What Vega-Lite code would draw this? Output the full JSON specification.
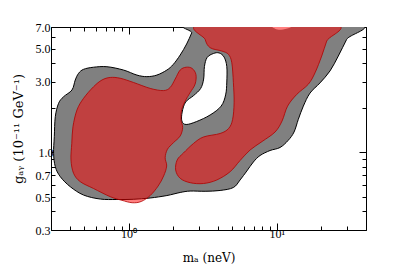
{
  "$schema": "https://vega.github.io/schema/vega-lite/v6.json",
  "width": 315,
  "height": 203,
  "autosize": {"type": "none"},
  "padding": {"left": 51, "top": 27, "right": 41, "bottom": 41},
  "background": "white",
  "config": {
    "view": {"stroke": "black", "strokeWidth": 1},
    "axis": {
      "labelFont": "Liberation Serif",
      "labelFontSize": 12,
      "labelColor": "black",
      "titleFont": "DejaVu Serif",
      "titleFontSize": 12,
      "titleFontWeight": "normal",
      "titleColor": "black",
      "domainColor": "black",
      "tickColor": "black",
      "grid": false,
      "zindex": 1
    }
  },
  "datasets": {
    "regions": [
      {"region": "gray", "i": 1, "m": 2.667, "g": 6.38},
      {"region": "gray", "i": 2, "m": 2.815, "g": 7.33},
      {"region": "gray", "i": 3, "m": 33.7, "g": 7.33},
      {"region": "gray", "i": 4, "m": 29.63, "g": 5.78},
      {"region": "gray", "i": 5, "m": 26.01, "g": 4.46},
      {"region": "gray", "i": 6, "m": 22.87, "g": 3.54},
      {"region": "gray", "i": 7, "m": 19.57, "g": 2.94},
      {"region": "gray", "i": 8, "m": 16.76, "g": 2.51},
      {"region": "gray", "i": 9, "m": 15.11, "g": 2.05},
      {"region": "gray", "i": 10, "m": 13.98, "g": 1.67},
      {"region": "gray", "i": 11, "m": 13.08, "g": 1.372},
      {"region": "gray", "i": 12, "m": 11.92, "g": 1.203},
      {"region": "gray", "i": 13, "m": 10.52, "g": 1.079},
      {"region": "gray", "i": 14, "m": 9.013, "g": 1.03},
      {"region": "gray", "i": 15, "m": 7.717, "g": 0.953},
      {"region": "gray", "i": 16, "m": 6.957, "g": 0.862},
      {"region": "gray", "i": 17, "m": 6.28, "g": 0.749},
      {"region": "gray", "i": 18, "m": 5.657, "g": 0.652},
      {"region": "gray", "i": 19, "m": 5.099, "g": 0.58},
      {"region": "gray", "i": 20, "m": 4.149, "g": 0.554},
      {"region": "gray", "i": 21, "m": 3.287, "g": 0.547},
      {"region": "gray", "i": 22, "m": 2.605, "g": 0.549},
      {"region": "gray", "i": 23, "m": 2.231, "g": 0.537},
      {"region": "gray", "i": 24, "m": 1.815, "g": 0.512},
      {"region": "gray", "i": 25, "m": 1.4, "g": 0.493},
      {"region": "gray", "i": 26, "m": 1.076, "g": 0.483},
      {"region": "gray", "i": 27, "m": 0.835, "g": 0.4815},
      {"region": "gray", "i": 28, "m": 0.645, "g": 0.485},
      {"region": "gray", "i": 29, "m": 0.4975, "g": 0.516},
      {"region": "gray", "i": 30, "m": 0.4048, "g": 0.587},
      {"region": "gray", "i": 31, "m": 0.3466, "g": 0.686},
      {"region": "gray", "i": 32, "m": 0.3207, "g": 0.801},
      {"region": "gray", "i": 33, "m": 0.3124, "g": 0.986},
      {"region": "gray", "i": 34, "m": 0.3158, "g": 1.276},
      {"region": "gray", "i": 35, "m": 0.3207, "g": 1.74},
      {"region": "gray", "i": 36, "m": 0.3375, "g": 2.142},
      {"region": "gray", "i": 37, "m": 0.3648, "g": 2.373},
      {"region": "gray", "i": 38, "m": 0.4155, "g": 2.634},
      {"region": "gray", "i": 39, "m": 0.4373, "g": 3.075},
      {"region": "gray", "i": 40, "m": 0.4603, "g": 3.41},
      {"region": "gray", "i": 41, "m": 0.4975, "g": 3.63},
      {"region": "gray", "i": 42, "m": 0.581, "g": 3.75},
      {"region": "gray", "i": 43, "m": 0.715, "g": 3.78},
      {"region": "gray", "i": 44, "m": 0.925, "g": 3.59},
      {"region": "gray", "i": 45, "m": 1.139, "g": 3.32},
      {"region": "gray", "i": 46, "m": 1.33, "g": 3.24},
      {"region": "gray", "i": 47, "m": 1.554, "g": 3.32},
      {"region": "gray", "i": 48, "m": 1.815, "g": 3.59},
      {"region": "gray", "i": 49, "m": 2.001, "g": 3.91},
      {"region": "gray", "i": 50, "m": 2.231, "g": 4.53},
      {"region": "gray", "i": 51, "m": 2.467, "g": 5.38},

      {"region": "hole", "i": 1, "m": 3.739, "g": 4.64},
      {"region": "hole", "i": 2, "m": 4.086, "g": 4.68},
      {"region": "hole", "i": 3, "m": 4.414, "g": 4.39},
      {"region": "hole", "i": 4, "m": 4.603, "g": 3.79},
      {"region": "hole", "i": 5, "m": 4.603, "g": 2.98},
      {"region": "hole", "i": 6, "m": 4.519, "g": 2.44},
      {"region": "hole", "i": 7, "m": 4.214, "g": 2.05},
      {"region": "hole", "i": 8, "m": 3.552, "g": 1.787},
      {"region": "hole", "i": 9, "m": 2.882, "g": 1.615},
      {"region": "hole", "i": 10, "m": 2.448, "g": 1.542},
      {"region": "hole", "i": 11, "m": 2.29, "g": 1.628},
      {"region": "hole", "i": 12, "m": 2.301, "g": 1.872},
      {"region": "hole", "i": 13, "m": 2.429, "g": 2.186},
      {"region": "hole", "i": 14, "m": 2.751, "g": 2.418},
      {"region": "hole", "i": 15, "m": 3.066, "g": 2.696},
      {"region": "hole", "i": 16, "m": 3.212, "g": 3.12},
      {"region": "hole", "i": 17, "m": 3.252, "g": 3.79},
      {"region": "hole", "i": 18, "m": 3.391, "g": 4.36},

      {"region": "tophole", "i": 1, "m": 9.296, "g": 7.2},
      {"region": "tophole", "i": 2, "m": 12.68, "g": 7.2},
      {"region": "tophole", "i": 3, "m": 12.1, "g": 6.88},
      {"region": "tophole", "i": 4, "m": 10.69, "g": 6.7},
      {"region": "tophole", "i": 5, "m": 9.739, "g": 6.82},

      {"region": "red1", "i": 1, "m": 0.753, "g": 3.2},
      {"region": "red1", "i": 2, "m": 0.879, "g": 3.16},
      {"region": "red1", "i": 3, "m": 1.081, "g": 2.96},
      {"region": "red1", "i": 4, "m": 1.4, "g": 2.7},
      {"region": "red1", "i": 5, "m": 1.721, "g": 2.61},
      {"region": "red1", "i": 6, "m": 1.91, "g": 2.74},
      {"region": "red1", "i": 7, "m": 2.064, "g": 3.12},
      {"region": "red1", "i": 8, "m": 2.231, "g": 3.59},
      {"region": "red1", "i": 9, "m": 2.448, "g": 3.75},
      {"region": "red1", "i": 10, "m": 2.687, "g": 3.68},
      {"region": "red1", "i": 11, "m": 2.85, "g": 3.35},
      {"region": "red1", "i": 12, "m": 2.815, "g": 2.89},
      {"region": "red1", "i": 13, "m": 2.605, "g": 2.53},
      {"region": "red1", "i": 14, "m": 2.411, "g": 2.22},
      {"region": "red1", "i": 15, "m": 2.283, "g": 1.946},
      {"region": "red1", "i": 16, "m": 2.255, "g": 1.67},
      {"region": "red1", "i": 17, "m": 2.319, "g": 1.472},
      {"region": "red1", "i": 18, "m": 2.231, "g": 1.29},
      {"region": "red1", "i": 19, "m": 2.01, "g": 1.163},
      {"region": "red1", "i": 20, "m": 1.831, "g": 1.05},
      {"region": "red1", "i": 21, "m": 1.767, "g": 0.921},
      {"region": "red1", "i": 22, "m": 1.809, "g": 0.81},
      {"region": "red1", "i": 23, "m": 1.726, "g": 0.694},
      {"region": "red1", "i": 24, "m": 1.585, "g": 0.594},
      {"region": "red1", "i": 25, "m": 1.4, "g": 0.512},
      {"region": "red1", "i": 26, "m": 1.218, "g": 0.467},
      {"region": "red1", "i": 27, "m": 1.059, "g": 0.458},
      {"region": "red1", "i": 28, "m": 0.903, "g": 0.4755},
      {"region": "red1", "i": 29, "m": 0.753, "g": 0.503},
      {"region": "red1", "i": 30, "m": 0.581, "g": 0.571},
      {"region": "red1", "i": 31, "m": 0.4726, "g": 0.635},
      {"region": "red1", "i": 32, "m": 0.426, "g": 0.723},
      {"region": "red1", "i": 33, "m": 0.4092, "g": 0.889},
      {"region": "red1", "i": 34, "m": 0.4143, "g": 1.152},
      {"region": "red1", "i": 35, "m": 0.422, "g": 1.49},
      {"region": "red1", "i": 36, "m": 0.449, "g": 1.931},
      {"region": "red1", "i": 37, "m": 0.4975, "g": 2.315},
      {"region": "red1", "i": 38, "m": 0.581, "g": 2.77},
      {"region": "red1", "i": 39, "m": 0.662, "g": 3.075},

      {"region": "red2", "i": 1, "m": 3.162, "g": 7.33},
      {"region": "red2", "i": 2, "m": 23.95, "g": 7.33},
      {"region": "red2", "i": 3, "m": 21.73, "g": 5.63},
      {"region": "red2", "i": 4, "m": 20.1, "g": 4.46},
      {"region": "red2", "i": 5, "m": 18.12, "g": 3.44},
      {"region": "red2", "i": 6, "m": 16.33, "g": 2.88},
      {"region": "red2", "i": 7, "m": 13.64, "g": 2.46},
      {"region": "red2", "i": 8, "m": 11.83, "g": 2.05},
      {"region": "red2", "i": 9, "m": 10.86, "g": 1.628},
      {"region": "red2", "i": 10, "m": 9.739, "g": 1.372},
      {"region": "red2", "i": 11, "m": 7.962, "g": 1.184},
      {"region": "red2", "i": 12, "m": 6.609, "g": 1.038},
      {"region": "red2", "i": 13, "m": 5.657, "g": 0.882},
      {"region": "red2", "i": 14, "m": 4.845, "g": 0.741},
      {"region": "red2", "i": 15, "m": 3.942, "g": 0.652},
      {"region": "red2", "i": 16, "m": 3.202, "g": 0.617},
      {"region": "red2", "i": 17, "m": 2.605, "g": 0.625},
      {"region": "red2", "i": 18, "m": 2.231, "g": 0.669},
      {"region": "red2", "i": 19, "m": 2.08, "g": 0.761},
      {"region": "red2", "i": 20, "m": 2.129, "g": 0.889},
      {"region": "red2", "i": 21, "m": 2.348, "g": 0.991},
      {"region": "red2", "i": 22, "m": 2.742, "g": 1.148},
      {"region": "red2", "i": 23, "m": 3.202, "g": 1.27},
      {"region": "red2", "i": 24, "m": 4.149, "g": 1.341},
      {"region": "red2", "i": 25, "m": 4.733, "g": 1.449},
      {"region": "red2", "i": 26, "m": 5.037, "g": 1.666},
      {"region": "red2", "i": 27, "m": 5.156, "g": 2.16},
      {"region": "red2", "i": 28, "m": 5.099, "g": 2.95},
      {"region": "red2", "i": 29, "m": 4.975, "g": 4.02},
      {"region": "red2", "i": 30, "m": 4.719, "g": 4.58},
      {"region": "red2", "i": 31, "m": 4.26, "g": 4.82},
      {"region": "red2", "i": 32, "m": 3.552, "g": 5.08},
      {"region": "red2", "i": 33, "m": 3.287, "g": 5.78}
    ]
  },
  "data": {"name": "regions"},
  "resolve": {"axis": {"x": "independent", "y": "independent"}},
  "layer": [
    {
      "transform": [{"filter": "datum.region == 'gray'"}],
      "mark": {"type": "line", "interpolate": "cardinal-closed", "fill": "#808080", "stroke": "black", "strokeWidth": 1, "clip": true},
      "encoding": {
        "x": {"field": "m", "type": "quantitative", "scale": {"type": "log", "domain": [0.3, 40], "nice": false},
          "axis": {"orient": "bottom", "title": "mₐ (neV)", "titlePadding": 13,
            "values": [0.4, 0.5, 0.6, 0.7, 0.8, 0.9, 1, 2, 3, 4, 5, 6, 7, 8, 9, 10, 20, 30],
            "labelExpr": "datum.value == 1 ? '10⁰' : (datum.value == 10 ? '10¹' : '')",
            "tickSize": {"condition": {"test": "datum.value == 1 || datum.value == 10", "value": -7}, "value": -4},
            "labelPadding": 5, "labelFlush": false}},
        "y": {"field": "g", "type": "quantitative", "scale": {"type": "log", "domain": [0.3, 7], "nice": false},
          "axis": {"orient": "left", "title": "gₐᵧ  (10⁻¹¹   GeV⁻¹)", "titleFontSize": 13, "titlePadding": 10,
            "values": [0.3, 0.4, 0.5, 0.6, 0.7, 0.8, 0.9, 1, 2, 3, 4, 5, 6, 7],
            "labelExpr": "(datum.value == 0.3 || datum.value == 0.5 || datum.value == 0.7 || datum.value == 1 || datum.value == 3 || datum.value == 5 || datum.value == 7) ? format(datum.value, '.1f') : ''",
            "tickSize": {"condition": {"test": "datum.value == 1", "value": -7}, "value": -4},
            "labelPadding": 5, "labelFlush": false}},
        "order": {"field": "i", "type": "quantitative"}
      }
    },
    {
      "transform": [{"filter": "datum.region == 'hole'"}],
      "mark": {"type": "line", "interpolate": "cardinal-closed", "fill": "white", "stroke": "black", "strokeWidth": 1, "clip": true},
      "encoding": {
        "x": {"field": "m", "type": "quantitative", "axis": null},
        "y": {"field": "g", "type": "quantitative", "axis": null},
        "order": {"field": "i", "type": "quantitative"}
      }
    },
    {
      "transform": [{"filter": "datum.region == 'tophole'"}],
      "mark": {"type": "line", "interpolate": "cardinal-closed", "fill": "white", "strokeWidth": 0, "clip": true},
      "encoding": {
        "x": {"field": "m", "type": "quantitative", "axis": null},
        "y": {"field": "g", "type": "quantitative", "axis": null},
        "order": {"field": "i", "type": "quantitative"}
      }
    },
    {
      "transform": [{"filter": "datum.region == 'red1' || datum.region == 'red2'"}],
      "mark": {"type": "line", "interpolate": "cardinal-closed", "fill": "red", "fillOpacity": 0.5, "stroke": "#b00000", "strokeOpacity": 0.9, "strokeWidth": 0.9, "clip": true},
      "encoding": {
        "x": {"field": "m", "type": "quantitative",
          "axis": {"orient": "top", "title": null, "labels": false,
            "values": [0.4, 0.5, 0.6, 0.7, 0.8, 0.9, 1, 2, 3, 4, 5, 6, 7, 8, 9, 10, 20, 30],
            "tickSize": {"condition": {"test": "datum.value == 1 || datum.value == 10", "value": -7}, "value": -4}}},
        "y": {"field": "g", "type": "quantitative",
          "axis": {"orient": "right", "title": null, "labels": false,
            "values": [0.4, 0.5, 0.6, 0.7, 0.8, 0.9, 1, 2, 3, 4, 5, 6],
            "tickSize": {"condition": {"test": "datum.value == 1", "value": -7}, "value": -4}}},
        "detail": {"field": "region", "type": "nominal"},
        "order": {"field": "i", "type": "quantitative"}
      }
    }
  ]
}
